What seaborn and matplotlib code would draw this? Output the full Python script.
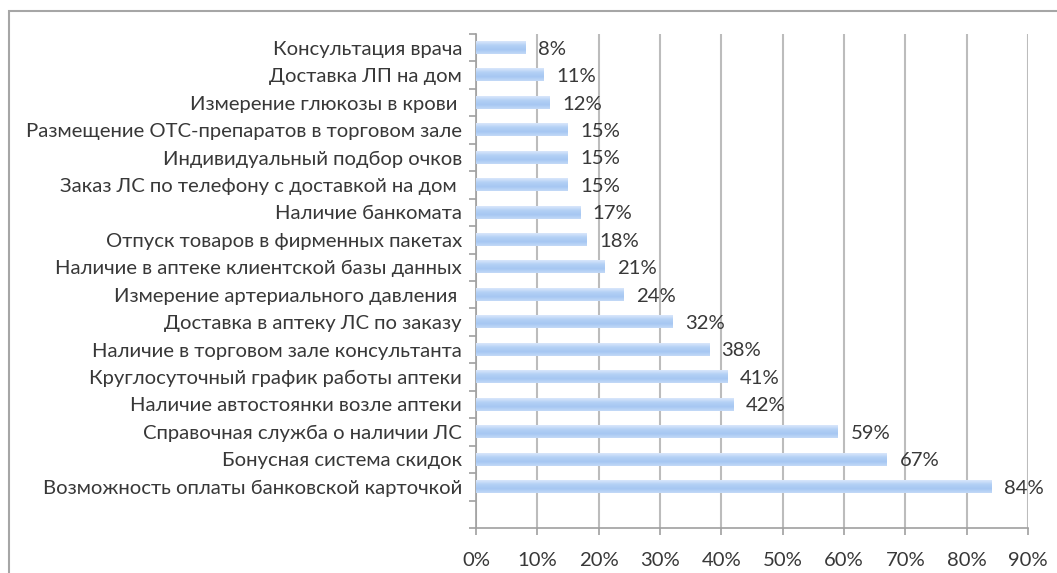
import numpy as np
import pandas as pd
import matplotlib.pyplot as plt
import matplotlib.patches as mpatches
from matplotlib.colors import LinearSegmentedColormap
import seaborn as sns

# Данные диаграммы (сверху вниз)
categories = [
    'Консультация врача',
    'Доставка ЛП на дом',
    'Измерение глюкозы в крови ',
    'Размещение ОТС-препаратов в торговом зале',
    'Индивидуальный подбор очков',
    'Заказ ЛС по телефону с доставкой на дом ',
    'Наличие банкомата',
    'Отпуск товаров в фирменных пакетах',
    'Наличие в аптеке клиентской базы данных',
    'Измерение артериального давления ',
    'Доставка в аптеку ЛС по заказу',
    'Наличие в торговом зале консультанта',
    'Круглосуточный график работы аптеки',
    'Наличие автостоянки возле аптеки',
    'Справочная служба о наличии ЛС',
    'Бонусная система скидок',
    'Возможность оплаты банковской карточкой',
    ' ',
]
values = [8, 11, 12, 15, 15, 15, 17, 18, 21, 24, 32, 38, 41, 42, 59, 67, 84, np.nan]
x_ticks = [0, 10, 20, 30, 40, 50, 60, 70, 80, 90]

df = pd.DataFrame({'category': categories, 'value': values})

sns.set_theme(style='white')
plt.rcParams['font.family'] = ['Lato', 'DejaVu Sans']

text_color = '#383838'
grid_color = '#bcbcbc'
fsize = 14.6

fig = plt.figure(figsize=(10.57, 5.73), dpi=100)
ax = fig.add_axes([476 / 1057, 1 - 528 / 573, (1028 - 476) / 1057, (528 - 34) / 573])

sns.barplot(data=df, x='value', y='category', orient='h', color='#b3d0f4',
            width=0.45, ax=ax, zorder=3)

# Градиентная заливка столбцов
cmap = LinearSegmentedColormap.from_list('bar', ['#dae7fb', '#b3d0f5', '#a6c7f2', '#c3d9f7'])
grad = np.linspace(0, 1, 64).reshape(-1, 1)
for patch in ax.patches:
    w = patch.get_width()
    if not np.isfinite(w) or w <= 0:
        continue
    x0, y0 = patch.get_x(), patch.get_y()
    h = patch.get_height()
    ax.imshow(grad, cmap=cmap, aspect='auto', interpolation='bilinear',
              extent=(x0, x0 + w, y0 + h, y0), zorder=3)
    patch.set_visible(False)

ax.set_xlim(0, 90)
ax.set_ylim(len(categories) - 0.5, -0.5)
ax.set_xticks(x_ticks)
ax.set_xticklabels([f'{t}%' for t in x_ticks])

# Подписи значений
for i, v in enumerate(values):
    if np.isfinite(v):
        ax.annotate(f'{int(v)}%', xy=(v, i), xytext=(9, -1), textcoords='offset points',
                    ha='left', va='center', fontsize=fsize, color=text_color, zorder=4)

# Сетка по оси X
ax.xaxis.grid(True, color=grid_color, linewidth=1.5, zorder=0)
ax.yaxis.grid(False)

# Деления между категориями
ax.set_yticks(np.arange(len(categories)))
ax.set_yticks(np.arange(len(categories) + 1) - 0.5, minor=True)
ax.tick_params(axis='y', which='major', length=0, pad=10, labelsize=fsize, labelcolor=text_color)
ax.tick_params(axis='y', which='minor', length=5, width=1.2, color='#a0a0a0', direction='out', left=True)
ax.tick_params(axis='x', length=5, width=1.2, color='#a0a0a0', pad=12, labelsize=fsize,
               labelcolor=text_color, bottom=True)

for side in ['top', 'right']:
    ax.spines[side].set_visible(False)
for side in ['left', 'bottom']:
    ax.spines[side].set_color('#a0a0a0')
    ax.spines[side].set_linewidth(1.2)

ax.set_xlabel('')
ax.set_ylabel('')

# Рамка области диаграммы
frame = mpatches.Rectangle((9 / 1057, -0.1), 1.2, 1 - 11 / 573 + 0.1, transform=fig.transFigure,
                           fill=False, edgecolor='#a6a6a6', linewidth=1.5)
fig.patches.append(frame)

plt.savefig('out.png', dpi=100)
plt.close()
